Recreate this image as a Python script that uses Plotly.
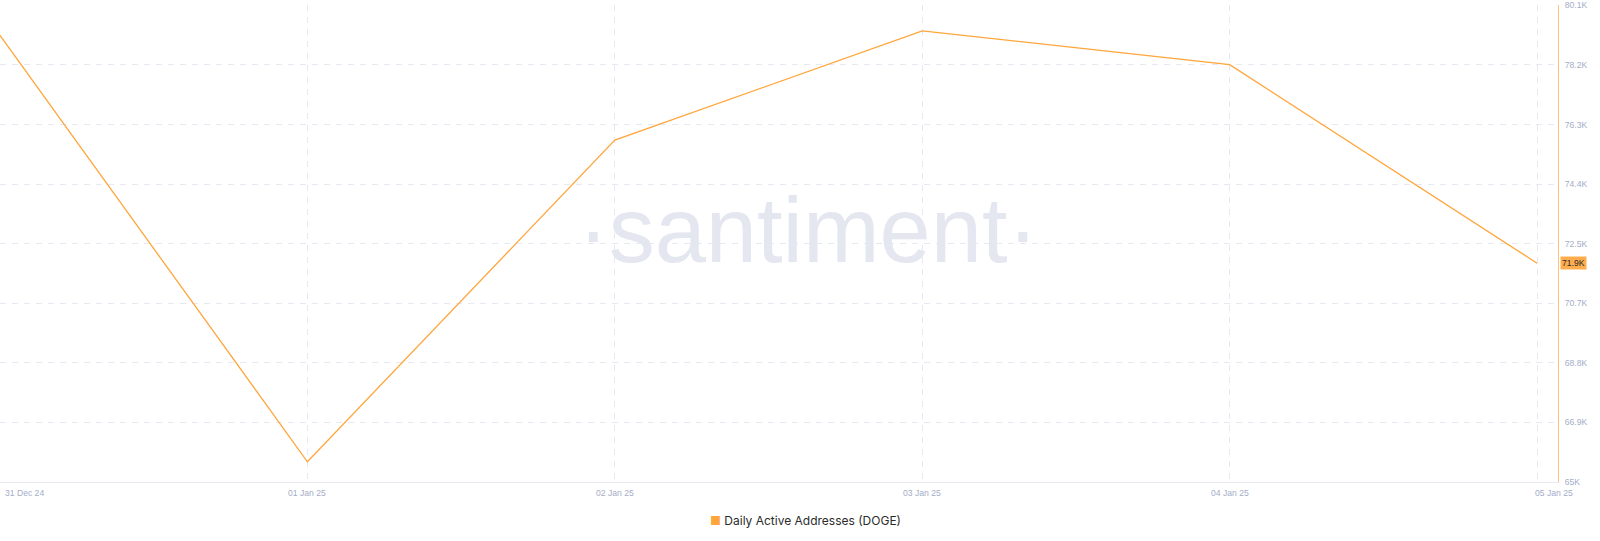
import plotly.graph_objects as go

dates = ["2024-12-31", "2025-01-01", "2025-01-02", "2025-01-03", "2025-01-04", "2025-01-05"]
active_addresses = [79150, 65640, 75830, 79290, 78220, 71930]
x_tick_labels = ["31 Dec 24", "01 Jan 25", "02 Jan 25", "03 Jan 25", "04 Jan 25", "05 Jan 25"]
y_tick_vals = [65000, 66887.5, 68775, 70662.5, 72550, 74437.5, 76325, 78212.5, 80100]
y_tick_text = ["65K", "66.9K", "68.8K", "70.7K", "72.5K", "74.4K", "76.3K", "78.2K", "80.1K"]
last_label = "71.9K"
series_name = "Daily Active Addresses (DOGE)"

LINE = "#ffa53b"
GRID = "#e6e9f2"
TICK = "#a4adc8"
TICKFONT = "Liberation Sans, Arial, sans-serif"

fig = go.Figure()
fig.add_trace(go.Scatter(
    x=dates, y=active_addresses, mode="lines",
    line=dict(color=LINE, width=1.3), showlegend=False, hoverinfo="skip",
))

# x tick labels as annotations
for i, (d, t) in enumerate(zip(dates, x_tick_labels)):
    anchor = "center"
    shift = 0
    if i == 0:
        anchor = "left"
        shift = 3
    elif i == len(dates) - 1:
        shift = 17
    fig.add_annotation(
        x=d, y=0, xref="x", yref="paper", yshift=-11, xshift=shift,
        text=t, showarrow=False, xanchor=anchor, yanchor="middle",
        font=dict(family=TICKFONT, size=8.6, color=TICK),
    )

# last value label
fig.add_annotation(
    x=1, xref="paper", y=active_addresses[-1], yref="y",
    text=last_label, showarrow=False, xanchor="left", yanchor="middle", xshift=2,
    bgcolor="#ffad4f", borderpad=1,
    font=dict(family=TICKFONT, size=8.6, color="#2a2a2a"),
)

# watermark
fig.add_annotation(
    x=808 / 1558, xref="paper", y=0.528, yref="paper",
    text="·santiment·", showarrow=False,
    font=dict(family="Liberation Sans, sans-serif", size=92, color="#e4e7f0"),
)

# legend
fig.add_annotation(
    x=708 / 1558, xref="paper", y=-0.08, yref="paper",
    text=f"<span style='color:{LINE}'>■</span> {series_name}", showarrow=False,
    xanchor="left", yanchor="middle",
    font=dict(family="Inter, Liberation Sans, sans-serif", size=12, color="#2b2b2b"),
)

fig.update_layout(
    width=1600, height=541,
    margin=dict(l=0, r=42, t=5, b=59),
    paper_bgcolor="white", plot_bgcolor="white",
    showlegend=False, hovermode=False,
    xaxis=dict(
        type="date",
        range=["2024-12-31 00:00", "2025-01-05 01:38"],
        tickvals=dates, showticklabels=False,
        showgrid=True, gridcolor=GRID, griddash="6px,6px", gridwidth=1,
        showline=True, linecolor=GRID, linewidth=1,
        zeroline=False, fixedrange=True,
    ),
    yaxis=dict(
        side="right", range=[65000, 80110],
        tickmode="array", tickvals=y_tick_vals, ticktext=y_tick_text,
        tickfont=dict(family=TICKFONT, size=8.6, color=TICK),
        showgrid=True, gridcolor=GRID, griddash="6px,6px", gridwidth=1,
        showline=True, linecolor="#ffc27f", linewidth=1,
        ticks="", ticklabelstandoff=4,
        zeroline=False, fixedrange=True,
    ),
)

fig.write_html("out.html", config={"displayModeBar": False},
               post_script="document.body.style.margin='0';")
